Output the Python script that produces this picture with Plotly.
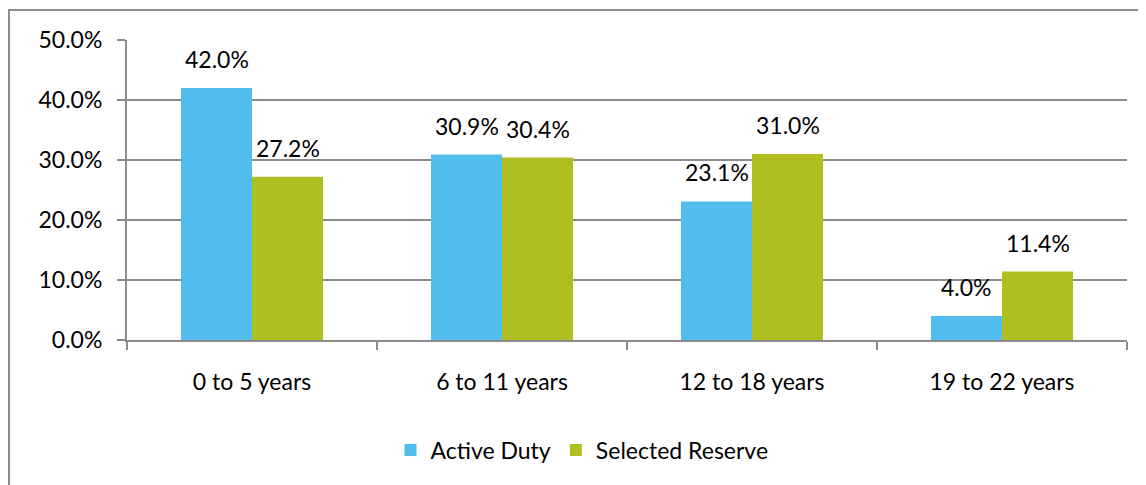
import plotly.graph_objects as go

categories = ["0 to 5 years", "6 to 11 years", "12 to 18 years", "19 to 22 years"]
active_duty = [0.420, 0.309, 0.231, 0.040]
selected_reserve = [0.272, 0.304, 0.310, 0.114]
series_names = ["Active Duty", "Selected Reserve"]
colors = ["#52BDEC", "#B0BE22"]

FONT = "Lato"
FS = 23

fig = go.Figure()
for name, vals, col in zip(series_names, [active_duty, selected_reserve], colors):
    fig.add_trace(go.Bar(
        x=categories, y=vals, name=name, marker_color=col, marker_line_width=0,
    ))

# data labels above each bar
offsets = [-35.5, 35.5]
for vals, dx in zip([active_duty, selected_reserve], offsets):
    for c, v in zip(categories, vals):
        fig.add_annotation(x=c, y=v, text=f"{v*100:.1f}%", showarrow=False,
                           xshift=dx, yanchor="bottom", yshift=13,
                           font=dict(size=FS, color="black", family=FONT))

fig.update_layout(
    width=1146, height=485,
    margin=dict(l=119, r=27, t=32, b=153),
    paper_bgcolor="white", plot_bgcolor="white",
    barmode="group", bargap=0.432, bargroupgap=0,
    font=dict(family=FONT, size=FS, color="black"),
    legend=dict(orientation="h", x=0.455, xanchor="center", y=-0.367, yanchor="middle",
                font=dict(size=FS, family=FONT), itemwidth=30, traceorder="normal"),
    showlegend=True,
)
fig.update_xaxes(showline=True, linecolor="#8c8c8c", linewidth=2, ticks="outside",
                 tickson="boundaries", ticklen=8, tickcolor="#8c8c8c", tickwidth=2,
                 showgrid=False, ticklabelstandoff=20, tickfont=dict(size=FS))
fig.update_yaxes(range=[0, 0.5], dtick=0.1, tickformat=".1%", showline=True,
                 linecolor="#8c8c8c", linewidth=2, ticks="outside", ticklen=8,
                 tickcolor="#8c8c8c", tickwidth=2, showgrid=True, gridcolor="#8c8c8c",
                 gridwidth=2, zeroline=False, ticklabelstandoff=10, tickfont=dict(size=FS))

# outer chart border
fig.add_shape(type="rect", xref="paper", yref="paper", x0=-0.118, x1=1.2, y0=-0.7, y1=1.1,
              line=dict(color="#8c8c8c", width=2), layer="above")

fig.write_html("out.html")
